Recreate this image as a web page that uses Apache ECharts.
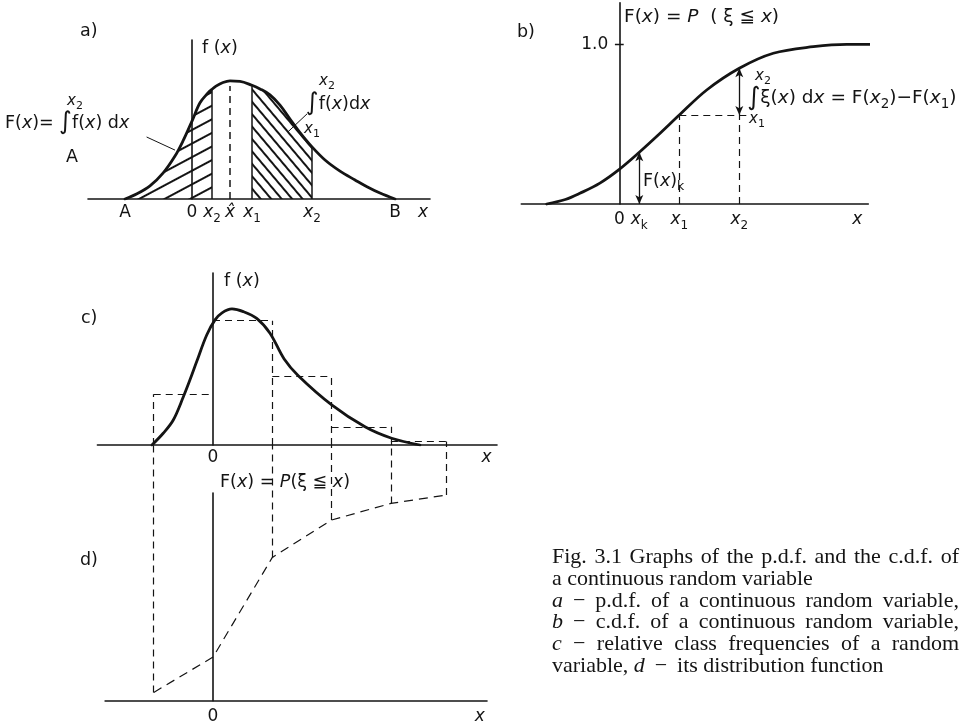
<!DOCTYPE html>
<html>
<head>
<meta charset="utf-8">
<title>Fig. 3.1 p.d.f. and c.d.f. of a continuous random variable</title>
<script src="https://cdn.jsdelivr.net/npm/echarts@6.0.0/dist/echarts.min.js"></script>
<style>
html, body { margin: 0; padding: 0; background: #fff; }
#main { width: 966px; height: 726px; }
</style>
</head>
<body>
<div id="main"></div>
<script>
// ---------- a) probability density f(x) ----------
const aCurve = [
  [-3.35, 0], [-2.75, 0.013], [-2.1, 0.033], [-1.45, 0.065], [-0.85, 0.108], [-0.45, 0.146],
  [0, 0.196], [0.4, 0.242], [0.8, 0.267], [1.0, 0.276], [1.2, 0.284], [1.55, 0.293], [1.9, 0.297],
  [2.4, 0.296], [3.0, 0.286], [3.4, 0.277], [3.9, 0.262], [4.4, 0.236], [4.9, 0.201], [5.4, 0.167],
  [6.0, 0.131], [6.65, 0.098], [7.4, 0.070], [8.15, 0.048], [8.75, 0.031], [9.4, 0.015], [10.15, 0]
];
const aLeftRange = [-3.35, 1];     // A .. x2
const aRightRange = [3, 6];        // x1 .. x2
const aMode = 1.9;                 // x̂
const aModeTop = 0.284;
const aLeaders = [
  [[-2.27, 0.156], [-0.85, 0.123]],
  [[4.8, 0.169], [5.75, 0.214]]
];
const aTickVals = [-3.35, 0, 1, 1.9, 3, 6, 10.15, 11.55];
const aTickText = ['{n|A}', '{n|0}', '{i|x}{s|2}', '{i|x̂}', '{i|x}{s|1}', '{i|x}{s|2}', '{n|B}', '{i|x}'];

// ---------- b) distribution function F(x) ----------
const bCurve = [
  [-3.63, 0], [-2.7, 0.028], [-1.97, 0.067], [-0.97, 0.131], [0, 0.217], [1, 0.324],
  [2.04, 0.443], [3, 0.557], [4.37, 0.714], [6, 0.85], [7.7, 0.944], [9.7, 0.985],
  [11.37, 1.0], [12.7, 1.0]
];
const bXk = 1, bX1 = 3, bX2 = 6;
const bGuideEnd = 6.4;
const bTickVals = [0, 1, 3, 6, 11.9];
const bTickText = ['{n|0}', '{i|x}{s|k}', '{i|x}{s|1}', '{i|x}{s|2}', '{i|x}'];
const bYTickVals = [1];
const bYTickText = ['1.0'];
const bTickHalf = 0.22;            // half length of the 1.0 tick, in x units

// ---------- c) relative class frequencies ----------
const cEdges = [-1, 0, 1, 2, 3, 3.93];
const cFreq = [0.195, 0.477, 0.262, 0.070, 0.013];
const cCurve = [
  [-1.03, 0], [-0.84, 0.045], [-0.67, 0.096], [-0.5, 0.185], [-0.39, 0.249], [-0.275, 0.32],
  [-0.106, 0.422], [0.034, 0.48], [0.152, 0.507], [0.32, 0.522], [0.511, 0.512], [0.737, 0.486],
  [0.961, 0.429], [1.2, 0.33], [1.438, 0.266], [2.002, 0.154], [2.563, 0.070], [3.013, 0.026], [3.49, 0]
];
const cTickVals = [0, 4.615];
const cTickText = ['{n|0}', '{i|x}'];

// ---------- d) cumulative frequencies (distribution function) ----------
const dCum = [0.04, 0.21, 0.69, 0.87, 0.95, 0.99];
const dTickVals = [0, 4.5];
const dTickText = ['{n|0}', '{i|x}'];

// ---------- caption ----------
const captionLines = [
  { words: ['Fig.', '3.1', 'Graphs', 'of', 'the', 'p.d.f.', 'and', 'the', 'c.d.f.', 'of'], justify: true },
  { words: ['a', 'continuous', 'random', 'variable'], justify: false },
  { words: ['*a', '−', 'p.d.f.', 'of', 'a', 'continuous', 'random', 'variable,'], justify: true },
  { words: ['*b', '−', 'c.d.f.', 'of', 'a', 'continuous', 'random', 'variable,'], justify: true },
  { words: ['*c', '−', 'relative', 'class', 'frequencies', 'of', 'a', 'random'], justify: true },
  { words: ['variable,', '*d', '−', 'its', 'distribution', 'function'], justify: false }
];

// ---------- styling ----------
const INK = '#141414';
const SANS = "'DejaVu Sans', 'Noto Sans CJK JP', sans-serif";
const SERIF = "'Liberation Serif', 'DejaVu Serif', serif";
const SMOOTH = 0.35;
const DASH = [7, 5];

const valueAt = (pts, x) => pts.find(p => p[0] === x)[1];

const axisRich = {
  n: { fontFamily: SANS, fontSize: 17, color: INK, lineHeight: 26 },
  i: { fontFamily: SANS, fontSize: 17, fontStyle: 'italic', color: INK, lineHeight: 26 },
  s: { fontFamily: SANS, fontSize: 12, color: INK, lineHeight: 14, padding: [12, 0, 0, 0] }
};
function textRichOf(size) {
  return {
    n: { fontFamily: SANS, fontSize: size, fill: INK, lineHeight: 26 },
    i: { fontFamily: SANS, fontSize: size, fontStyle: 'italic', fill: INK, lineHeight: 26 },
    s: { fontFamily: SANS, fontSize: size - 5, fill: INK, lineHeight: 14, padding: [12, 0, 0, 0] },
    int: { fontFamily: SANS, fontSize: size + 7, fill: INK, lineHeight: 26 },
    li: { fontFamily: SANS, fontSize: 15, fontStyle: 'italic', fill: INK, lineHeight: 20 },
    ls: { fontFamily: SANS, fontSize: 11, fill: INK, lineHeight: 12, padding: [10, 0, 0, 0] }
  };
}
const textRich = textRichOf(17.5);
const textRichWide = textRichOf(18.5);

function xAxisOf(grid, min, max, vals, texts, margin) {
  return {
    type: 'value', gridIndex: grid, min: min, max: max,
    axisLine: { show: true, onZero: true, lineStyle: { color: INK, width: 1.6 } },
    axisTick: { show: false },
    splitLine: { show: false },
    axisLabel: {
      show: true, customValues: vals, margin: margin, hideOverlap: false,
      color: INK, rich: axisRich,
      formatter: v => { const k = vals.indexOf(v); return k < 0 ? '' : texts[k]; }
    }
  };
}
function yAxisOf(grid, max, extra) {
  return Object.assign({
    type: 'value', gridIndex: grid, min: 0, max: max,
    axisLine: { show: true, onZero: true, lineStyle: { color: INK, width: 1.6 } },
    axisTick: { show: false },
    axisLabel: { show: false },
    splitLine: { show: false }
  }, extra || {});
}
function segments(grid, segs, style, extra) {
  return Object.assign({
    type: 'lines', coordinateSystem: 'cartesian2d', xAxisIndex: grid, yAxisIndex: grid,
    polyline: false, silent: true, z: 3,
    lineStyle: Object.assign({ color: INK, width: 1.2, opacity: 1, curveness: 0 }, style),
    data: segs.map(s => ({ coords: s }))
  }, extra || {});
}
function curve(grid, data, extra) {
  return Object.assign({
    type: 'line', xAxisIndex: grid, yAxisIndex: grid, data: data,
    smooth: SMOOTH, symbol: 'none', silent: true, z: 5,
    lineStyle: { color: INK, width: 2.8, cap: 'round', join: 'round' }
  }, extra || {});
}
function hatch(grid, data, decal) {
  return {
    type: 'line', xAxisIndex: grid, yAxisIndex: grid, data: data,
    smooth: SMOOTH, symbol: 'none', silent: true, z: 1,
    lineStyle: { width: 0, color: INK, decal: decal },
    itemStyle: { color: INK, decal: decal },
    areaStyle: { color: 'rgba(0,0,0,0)', opacity: 1 }
  };
}

// hatch patterns: rising strokes on the left, falling strokes on the right
const hatchLeft = { symbol: 'rect', symbolSize: 1, color: INK, backgroundColor: 'rgba(0,0,0,0)',
  dashArrayX: [1, 0], dashArrayY: [1.3, 9.8], rotation: -0.49 };
const hatchRight = { symbol: 'rect', symbolSize: 1, color: INK, backgroundColor: 'rgba(0,0,0,0)',
  dashArrayX: [1, 0], dashArrayY: [1.3, 5.6], rotation: 0.87 };

// ---------- panel a series ----------
const inRange = (pts, r) => pts.filter(p => p[0] >= r[0] && p[0] <= r[1]);
const aEdges = [aLeftRange[1], aRightRange[0], aRightRange[1]].map(x => [[x, 0], [x, valueAt(aCurve, x)]]);

// ---------- panel b values ----------
const FK = valueAt(bCurve, bXk), F1 = valueAt(bCurve, bX1), F2 = valueAt(bCurve, bX2);

// ---------- panel c outline ----------
const cTops = cFreq.map((h, i) => [[cEdges[i], h], [cEdges[i + 1], h]]);
const cSides = [];
cEdges.forEach((e, j) => {
  if (e === 0) return;
  const hl = j > 0 ? cFreq[j - 1] : 0;
  const hr = j < cFreq.length ? cFreq[j] : 0;
  cSides.push([[e, 0], [e, Math.max(hl, hr)]]);
});

function dLinks(top) {
  const out = [];
  cEdges.forEach((e, j) => { if (e !== 0) out.push({ coords: [[e, dCum[j]], [e, top]] }); });
  return out;
}

// ---------- text ----------
function T(x, y, text, extra, rich) {
  return { type: 'text', x: x, y: y, silent: true, z: 100,
    style: Object.assign({ text: text, rich: rich || textRich, align: 'left', verticalAlign: 'middle',
      fill: INK, fontFamily: SANS, fontSize: 17 }, extra || {}) };
}
const C = { align: 'center' };
const labels = [
  // a
  T(80, 31, '{n|a)}'),
  T(202, 48, '{n|f (}{i|x}{n|)}'),
  T(5, 123, '{n|F(}{i|x}{n|)= }{int|∫}{n|f(}{i|x}{n|) d}{i|x}'),
  T(75, 101, '{li|x}{ls|2}', C),
  T(72, 157, '{n|A}', C),
  T(327, 81, '{li|x}{ls|2}', C),
  T(306, 104, '{int|∫}{n|f(}{i|x}{n|)d}{i|x}'),
  T(312, 129, '{li|x}{ls|1}', C),
  // b
  T(517, 32, '{n|b)}'),
  T(624, 17, '{n|F(}{i|x}{n|) = }{i|P}{n|  ( ξ ≦ }{i|x}{n|)}', null, textRichWide),
  T(643, 181, '{n|F(}{i|x}{n|)}{s|k}'),
  T(747, 98, '{int|∫}{n|ξ(}{i|x}{n|) d}{i|x}{n| = F(}{i|x}{s|2}{n|)−F(}{i|x}{s|1}{n|)}', null, textRichWide),
  T(763, 76, '{li|x}{ls|2}', C),
  T(757, 119, '{li|x}{ls|1}', C),
  // c
  T(81, 318, '{n|c)}'),
  T(224, 281, '{n|f (}{i|x}{n|)}'),
  // d
  T(80, 560, '{n|d)}'),
  T(220, 482, '{n|F(}{i|x}{n|) = }{i|P}{n|(ξ ≦ }{i|x}{n|)}')
];

function captionElements() {
  const ctx = document.createElement('canvas').getContext('2d');
  const size = 22;
  const fontOf = it => (it ? 'italic ' : '') + size + 'px ' + SERIF;
  const left = 552, right = 959, top = 557.5, step = 21.7;
  const els = [];
  captionLines.forEach((ln, k) => {
    const words = ln.words.map(w => ({ text: w.replace(/^\*/, ''), it: w.charAt(0) === '*' }));
    words.forEach(w => { ctx.font = fontOf(w.it); w.width = ctx.measureText(w.text).width; });
    ctx.font = fontOf(false);
    const space = ctx.measureText(' ').width;
    const total = words.reduce((s, w) => s + w.width, 0);
    const gap = ln.justify ? (right - left - total) / (words.length - 1) : space;
    let x = left;
    words.forEach((w, j) => {
      els.push({ type: 'text', x: x, y: top + k * step, silent: true, z: 100,
        style: { text: w.text, font: fontOf(w.it), fill: INK, align: 'left', verticalAlign: 'middle' } });
      const next = words[j + 1];
      const wide = !ln.justify && (w.text === '−' || (next && next.text === '−'));
      x += w.width + (wide ? gap * 1.8 : gap);
    });
  });
  return els;
}

const chart = echarts.init(document.getElementById('main'), null, { renderer: 'canvas', width: 966, height: 726 });

const option = {
  animation: false,
  backgroundColor: '#ffffff',
  grid: [
    { left: 88, top: 40, width: 342, height: 159, outerBoundsMode: 'none', containLabel: false },
    { left: 521.3, top: 2.8, width: 347, height: 201.2, outerBoundsMode: 'none', containLabel: false },
    { left: 97.4, top: 273, width: 399.6, height: 172, outerBoundsMode: 'none', containLabel: false },
    { left: 105.1, top: 493, width: 381.9, height: 207.7, outerBoundsMode: 'none', containLabel: false }
  ],
  xAxis: [
    xAxisOf(0, -5.2, 11.9, aTickVals, aTickText, 1),
    xAxisOf(1, -4.9, 12.45, bTickVals, bTickText, 3),
    xAxisOf(2, -1.95, 4.79, cTickVals, cTickText, 0),
    xAxisOf(3, -1.82, 4.62, dTickVals, dTickText, 3)
  ],
  yAxis: [
    yAxisOf(0, 0.4),
    yAxisOf(1, 1.26),
    yAxisOf(2, 0.66),
    yAxisOf(3, 1)
  ],
  series: [
    // a) shaded areas, their edges, the mode and pointer lines, the density
    hatch(0, inRange(aCurve, aLeftRange), hatchLeft),
    hatch(0, inRange(aCurve, aRightRange), hatchRight),
    segments(0, aEdges, { width: 1.5 }),
    segments(0, [[[aMode, 0], [aMode, aModeTop]]], { width: 1.5, type: DASH }),
    segments(0, aLeaders, { width: 1 }),
    curve(0, aCurve),

    // b) guide lines, arrows, the 1.0 level and the distribution function
    segments(1, [[[bX1, 0], [bX1, F1]], [[bX2, 0], [bX2, F1]], [[bX1, F1], [bGuideEnd, F1]]], { width: 1.2, type: DASH }),
    segments(1, bYTickVals.map(v => [[-bTickHalf, v], [bTickHalf, v]]), { width: 1.4 }),
    {
      type: 'scatter', xAxisIndex: 1, yAxisIndex: 1, silent: true, symbolSize: 0,
      itemStyle: { opacity: 1 },
      data: bYTickVals.map(v => [0, v]),
      label: { show: true, position: 'left', distance: 11, color: INK, opacity: 1, fontFamily: SANS, fontSize: 17,
        formatter: p => bYTickText[p.dataIndex] }
    },
    curve(1, bCurve, {
      clip: false,
      markLine: {
        silent: true, animation: false, symbol: ['arrow', 'arrow'], symbolSize: [6, 9],
        label: { show: false },
        lineStyle: { color: INK, width: 1.3, type: 'solid' },
        data: [
          [{ coord: [bXk, 0] }, { coord: [bXk, FK] }],
          [{ coord: [bX2, F1] }, { coord: [bX2, F2] }]
        ]
      }
    }),

    // c) class outline and density
    segments(2, cTops.concat(cSides), { width: 1.2, type: DASH }),
    curve(2, cCurve),

    // d) cumulative frequencies with drop lines from the classes
    {
      type: 'line', xAxisIndex: 3, yAxisIndex: 3, silent: true, symbol: 'none', z: 3,
      data: cEdges.map((e, i) => [e, dCum[i]]),
      lineStyle: { color: INK, width: 1.2, type: [9, 6] }
    },
    segments(3, [], { width: 1.2, type: DASH }, { id: 'dLinks', clip: false })
  ],
  graphic: { elements: labels.concat(captionElements()) }
};

chart.setOption(option);

// drop lines reach up to the class axis of panel c
const cBasePx = chart.convertToPixel({ yAxisIndex: 2 }, 0);
const cBaseInD = chart.convertFromPixel({ yAxisIndex: 3 }, cBasePx);
chart.setOption({ series: [{ id: 'dLinks', data: dLinks(cBaseInD) }] });
</script>
</body>
</html>
